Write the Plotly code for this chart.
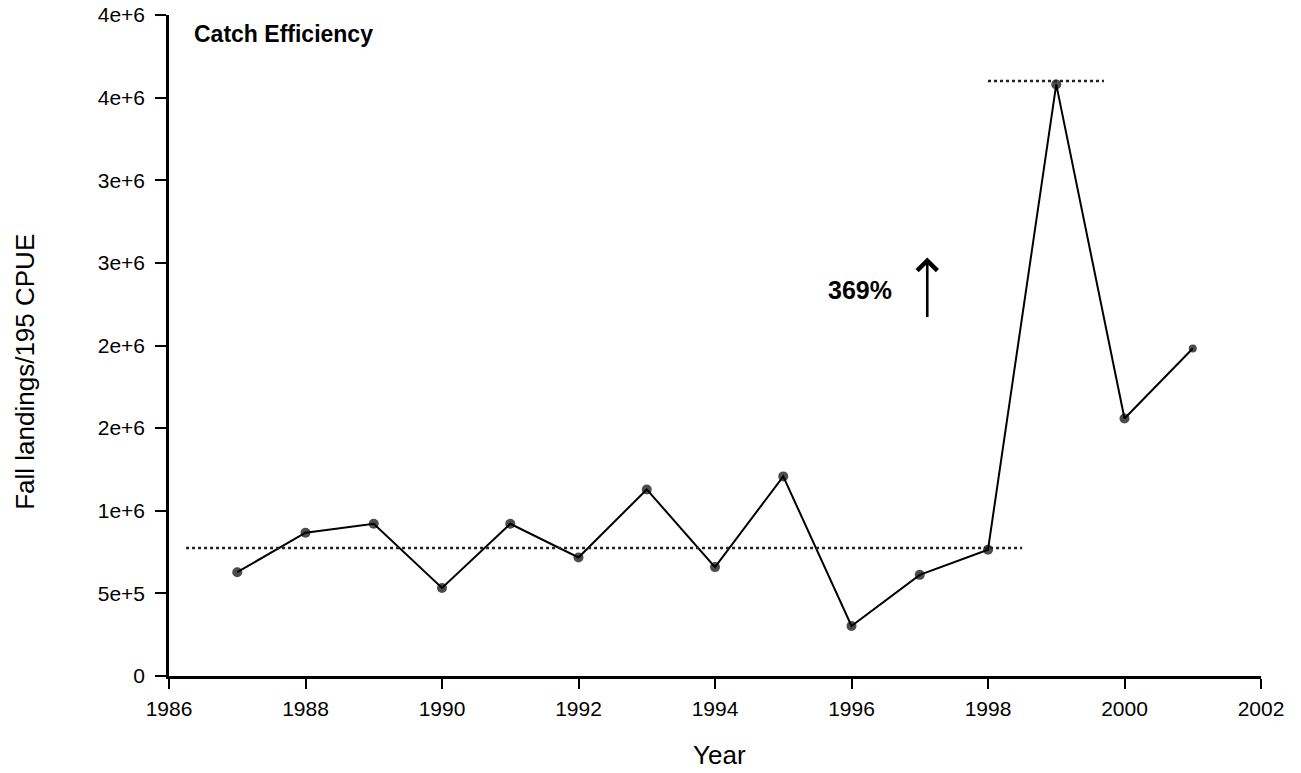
import plotly.graph_objects as go

# ---- data ----
years = [1987, 1988, 1989, 1990, 1991, 1992, 1993, 1994, 1995, 1996, 1997, 1998, 1999, 2000, 2001]
cpue = [0.628e6, 0.867e6, 0.921e6, 0.533e6, 0.921e6, 0.717e6, 1.129e6, 0.659e6, 1.208e6,
        0.303e6, 0.612e6, 0.764e6, 3.58e6, 1.558e6, 1.982e6]
y_tickvals = [0, 0.5e6, 1.0e6, 1.5e6, 2.0e6, 2.5e6, 3.0e6, 3.5e6, 4.0e6]
y_ticktext = ["0", "5e+5", "1e+6", "2e+6", "2e+6", "3e+6", "3e+6", "4e+6", "4e+6"]
x_tickvals = [1986, 1988, 1990, 1992, 1994, 1996, 1998, 2000, 2002]
baseline_level = 0.774e6
baseline_span = [1986.25, 1998.5]
peak_level = 3.6e6
peak_span = [1998.0, 1999.7]
arrow_x = 1997.11
arrow_y = [2.164e6, 2.533e6]
pct_label = "369%"
pct_pos = [1996.12, 2.333e6]

marker_sizes = [10] * (len(years) - 1) + [8]

FONT = "Liberation Sans, Arial, sans-serif"

fig = go.Figure()
fig.add_trace(go.Scatter(
    x=years, y=cpue, mode="lines+markers",
    line=dict(color="black", width=2),
    marker=dict(color="black", size=marker_sizes, line=dict(width=0)),
    showlegend=False, hoverinfo="skip"))

# dotted reference lines
for span, lvl in [(baseline_span, baseline_level), (peak_span, peak_level)]:
    fig.add_trace(go.Scatter(
        x=span, y=[lvl, lvl], mode="lines",
        line=dict(color="#222222", width=2.5, dash="dot"),
        showlegend=False, hoverinfo="skip"))

# arrow
fig.add_annotation(x=arrow_x, y=arrow_y[1], ax=arrow_x, ay=arrow_y[0],
                   xref="x", yref="y", axref="x", ayref="y",
                   showarrow=True, arrowhead=4, arrowsize=1.5, arrowwidth=2.6,
                   arrowcolor="black", text="")
fig.add_annotation(x=pct_pos[0], y=pct_pos[1], xref="x", yref="y", text="<b>%s</b>" % pct_label,
                   showarrow=False, font=dict(family=FONT, size=25, color="black"))

# panel title
fig.add_annotation(x=0.021, y=0.972, xref="paper", yref="paper", xanchor="left", yanchor="middle",
                   text="<b>Catch Efficiency</b>", showarrow=False,
                   font=dict(family=FONT, size=23, color="black"))

# axis titles
fig.add_annotation(x=-0.132, y=0.46, xref="paper", yref="paper", textangle=-90,
                   xanchor="center", yanchor="middle",
                   text="Fall landings/195 CPUE", showarrow=False,
                   font=dict(family=FONT, size=26, color="black"))
fig.add_annotation(x=0.504, y=-0.1195, xref="paper", yref="paper",
                   xanchor="center", yanchor="middle",
                   text="Year", showarrow=False,
                   font=dict(family=FONT, size=26, color="black"))

fig.update_xaxes(range=[1986, 2002], tickvals=x_tickvals, ticks="outside", ticklen=10,
                 tickwidth=2, tickcolor="black", showline=True, linecolor="black", linewidth=2.5,
                 showgrid=False, zeroline=False, ticklabelstandoff=2, ticklabeloverflow="allow",
                 automargin=False,
                 tickfont=dict(family=FONT, size=21, color="black"))
fig.update_yaxes(range=[0, 4e6], tickvals=y_tickvals, ticktext=y_ticktext, ticks="outside",
                 ticklen=11, tickwidth=2, tickcolor="black", showline=True, linecolor="black",
                 linewidth=2.5, showgrid=False, zeroline=False, ticklabelstandoff=6,
                 ticklabeloverflow="allow", automargin=False,
                 tickfont=dict(family=FONT, size=21, color="black"))

fig.update_layout(width=1301, height=773, margin=dict(l=169, r=40, t=15, b=97, autoexpand=False),
                  plot_bgcolor="white", paper_bgcolor="white")
# remove the default 8px page margin so the figure fills the window exactly
fig.write_html("out.html", config={"displayModeBar": False},
               post_script="document.body.style.margin='0px';")
